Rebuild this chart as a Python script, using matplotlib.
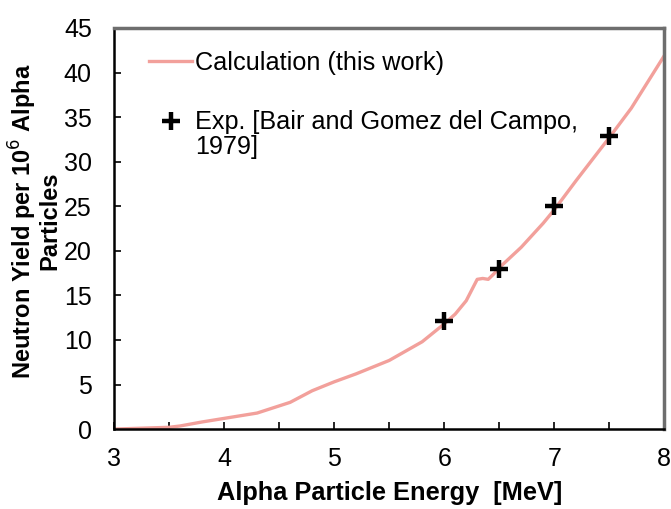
import numpy as np
import matplotlib.pyplot as plt
from matplotlib.ticker import MultipleLocator
from matplotlib.legend_handler import HandlerLine2D
from matplotlib.transforms import Affine2D

plt.rcParams['font.family'] = ['Liberation Sans', 'DejaVu Sans']

# calculated curve
calc_e = [3.0, 3.5, 3.6, 3.8, 4.0, 4.3, 4.5, 4.6, 4.8, 5.0, 5.2, 5.5, 5.8, 6.0,
          6.1, 6.2, 6.3, 6.35, 6.4, 6.45, 6.5, 6.7, 6.9, 7.0, 7.2, 7.5, 7.7, 8.0]
calc_y = [0.0, 0.2, 0.35, 0.8, 1.2, 1.8, 2.6, 3.0, 4.3, 5.3, 6.2, 7.7, 9.8, 11.8,
          12.9, 14.4, 16.8, 16.9, 16.8, 17.4, 18.1, 20.4, 23.1, 24.6, 27.9, 32.7, 36.0, 41.9]

# experimental points
exp_e = [6.0, 6.5, 7.0, 7.5]
exp_y = [12.1, 18.0, 25.0, 32.9]


class FirstLineHandler(HandlerLine2D):
    # put the marker level with the first line of a two-line label
    def create_artists(self, legend, orig_handle, xdescent, ydescent, width, height,
                       fontsize, trans):
        arts = super().create_artists(legend, orig_handle, xdescent, ydescent, width,
                                      height, fontsize, trans)
        for a in arts:
            a.set_transform(Affine2D().translate(0, 0.56 * fontsize) + trans)
        return arts


fig = plt.figure(figsize=(6.71, 5.09), dpi=100)
ax = fig.add_axes([0.170, 0.157, 0.820, 0.788])

ax.plot(calc_e, calc_y, color='#f2a09b', lw=2.4, label='Calculation (this work)')
exp_line, = ax.plot(exp_e, exp_y, ls='none', marker='+', ms=13, mew=3.2, color='black',
                    label='Exp. [Bair and Gomez del Campo,\n1979]')

ax.set_xlim(3, 8)
ax.set_ylim(0, 45)
ax.xaxis.set_major_locator(MultipleLocator(1))
ax.xaxis.set_minor_locator(MultipleLocator(0.5))
ax.yaxis.set_major_locator(MultipleLocator(5))
ax.tick_params(which='both', direction='in', labelsize=18, colors='black')
ax.tick_params(which='major', length=5, width=1.2)
ax.tick_params(which='minor', length=5, width=1.2)
ax.tick_params(axis='x', pad=13)
ax.tick_params(axis='y', pad=16)

for s in ['left', 'bottom']:
    ax.spines[s].set_linewidth(1.8)
    ax.spines[s].set_color('black')
for s in ['top', 'right']:
    ax.spines[s].set_linewidth(2.5)
    ax.spines[s].set_color('#6e6e6e')

ax.set_xlabel('Alpha Particle Energy  [MeV]', fontsize=18.3, fontweight='bold', labelpad=7)
fig.text(34 / 671, 1 - 221 / 509, 'Neutron Yield per 10$^{6}$ Alpha\nParticles',
         fontsize=17, fontweight='bold', rotation=90, ha='center', va='center',
         multialignment='center', linespacing=0.95)

leg = ax.legend(loc='upper left', bbox_to_anchor=(0.022, 1.0), frameon=False, fontsize=18.2,
                handlelength=1.72, handletextpad=0.1, labelspacing=1.4,
                handler_map={exp_line: FirstLineHandler()})
for t in leg.get_texts():
    t.set_linespacing(1.05)

fig.savefig('out.png', dpi=100)
